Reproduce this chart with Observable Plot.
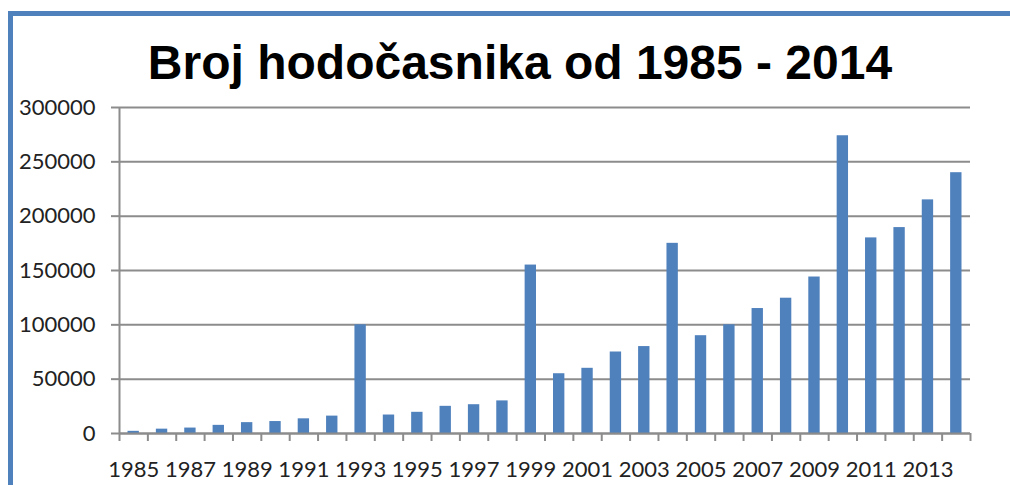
<!DOCTYPE html>
<html>
<head>
<meta charset="utf-8">
<script src="https://cdn.jsdelivr.net/npm/d3@7"></script>
<script src="https://cdn.jsdelivr.net/npm/@observablehq/plot@0.6"></script>
<style>
  html, body { margin: 0; padding: 0; background: #fff; width: 1010px; height: 485px; overflow: hidden; }
  #wrap { position: relative; width: 1010px; height: 485px; }
  #frame { position: absolute; left: 8px; top: 11px; width: 1010px; height: 500px;
           border-top: 5px solid #4f81bd; border-left: 5px solid #4f81bd; box-sizing: border-box; z-index: 2; }
  #title { position: absolute; left: 0; top: 39px; width: 1010px; padding-left: 30px; box-sizing: border-box;
           text-align: center; font: bold 48px "Liberation Sans", Arial, sans-serif; line-height: 48px; color: #000; }
  #chart { position: absolute; left: 0; top: 95px; }
</style>
</head>
<body>
<div id="wrap">
  <div id="frame"></div>
  <div id="title">Broj hodočasnika od 1985 - 2014</div>
  <div id="chart"></div>
</div>
<script>
const years = [1985,1986,1987,1988,1989,1990,1991,1992,1993,1994,1995,1996,1997,1998,1999,
               2000,2001,2002,2003,2004,2005,2006,2007,2008,2009,2010,2011,2012,2013,2014];
const pilgrims = [2000,4000,5000,7500,10000,11000,13500,16000,100000,17000,19500,25000,26500,30000,155000,
                  55000,60000,75000,80000,175000,90000,100000,115000,124500,144000,274000,180000,189500,215000,240000];
const yTicks = [0,50000,100000,150000,200000,250000,300000];
const xLabels = [1985,1987,1989,1991,1993,1995,1997,1999,2001,2003,2005,2007,2009,2011,2013];
const boundaries = d3.range(1985, 2016);

const data = years.map((y, i) => ({year: y, value: pilgrims[i]}));

const W = 1010, H = 390;
const mL = 119, mR = 40, mT = 12, mB = 52;
const step = (W - mL - mR) / years.length;
const font = "Lato, 'Open Sans', sans-serif";
const grey = "#8c8c8c";

const chart = Plot.plot({
  width: W,
  height: H,
  marginLeft: mL,
  marginRight: mR,
  marginTop: mT,
  marginBottom: mB,
  style: {background: "transparent", fontFamily: font, fontSize: "22px", color: "#222", maxWidth: "none", overflow: "visible"},
  x: {type: "linear", domain: [1985, 2015]},
  y: {domain: [0, 300000]},
  marks: [
    Plot.gridY(yTicks, {stroke: grey, strokeOpacity: 1, strokeWidth: 2}),
    Plot.axisY(yTicks, {tickSize: 8, tickPadding: 16, stroke: grey, strokeWidth: 2, tickFormat: d => String(d),
                        fontSize: 22, fill: "#222", label: null}),
    Plot.rectY(data, {x: "year", y: "value", interval: 1, insetLeft: 8.5, insetRight: 8.5, fill: "#4f81bd"}),
    Plot.axisX(boundaries, {tickSize: 8, stroke: grey, strokeWidth: 2, tickFormat: () => "", label: null}),
    Plot.axisX(xLabels, {tickSize: 0, tickPadding: 28, dx: step / 2, tickFormat: d => String(d),
                         fontSize: 22, fill: "#222", label: null}),
    Plot.ruleY([0], {stroke: grey, strokeWidth: 2}),
    Plot.ruleX([1985], {stroke: grey, strokeWidth: 2})
  ]
});
document.getElementById("chart").appendChild(chart);
</script>
</body>
</html>
